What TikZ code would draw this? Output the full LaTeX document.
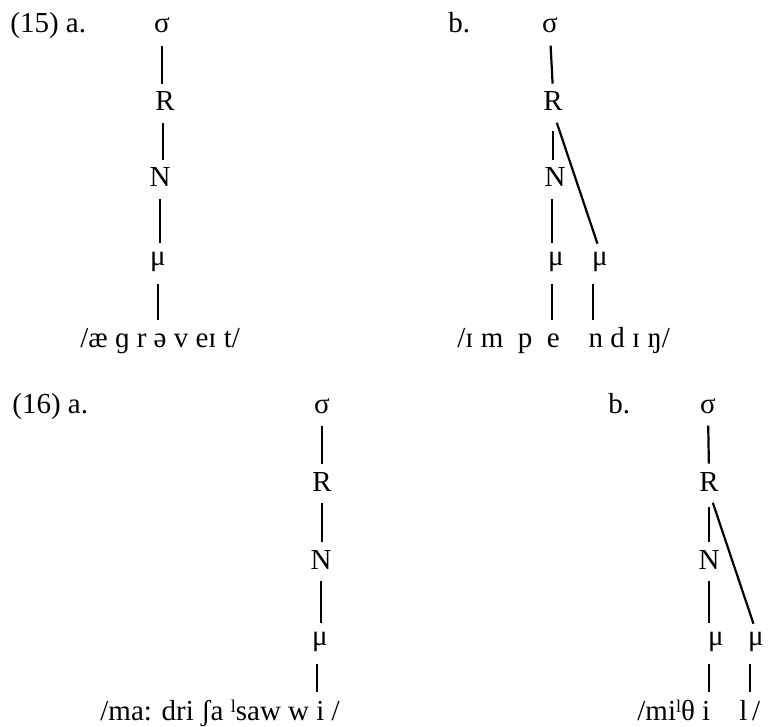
\documentclass[tikz,border=0pt]{standalone}
\usepackage{fontspec}
\setmainfont{Liberation Serif}
\usepackage{tikz}
\tikzset{
  every node/.style={font=\fontsize{14.5}{17}\selectfont},
  lbl/.style={inner sep=0pt,anchor=base},
  txt/.style={inner sep=0pt,anchor=base west},
  link/.style={line width=1.1pt,shorten <=6pt,shorten >=4pt},
  stem/.style={line width=1.1pt,shorten <=6pt}
}
\newcommand{\strs}{\raisebox{0.55ex}{\fontsize{9}{9}\selectfont l}}

\begin{document}
\begin{tikzpicture}[x=0.5pt,y=-0.5pt]
  \useasboundingbox (0,0) rectangle (770,727);
  % (15) a.
  \node[txt] (nex15) at (10,33) {(15) a.};
  \node[lbl] (nsig1) at (162,33) {σ};
  \node[lbl] (nR1) at (165,111) {R};
  \node[lbl] (nN1) at (160,187) {N};
  \node[lbl] (nmu1) at (158,265) {μ};
  \coordinate (e1) at (158,320);
  \node[txt] (nw1) at (80,347) {/æ ɡ r ə v eɪ t/};
  \draw[link] (nsig1.south) -- (nsig1.south |- nR1.north);
  \draw[link] ([xshift=-1pt]nR1.south) -- ([xshift=-1pt]nR1.south |- nN1.north);
  \draw[link] (nN1.south) -- (nN1.south |- nmu1.north);
  \draw[stem] (e1 |- nmu1.south) -- (e1);
  % (15) b.
  \node[txt] (nb15) at (448,33) {b.};
  \node[lbl] (nsig2) at (550,33) {σ};
  \node[lbl] (nR2) at (553,111) {R};
  \node[lbl] (nN2) at (555,187) {N};
  \node[lbl] (nmu2a) at (556,265) {μ};
  \node[lbl] (nmu2b) at (600,265) {μ};
  \coordinate (e2a) at (552,320);
  \coordinate (e2b) at (593,320);
  \node[txt] (nw2) at (457,347) {/ɪ m~~p~~e~~~~n d ɪ ŋ/};
  \draw[link] (nsig2.south) -- (nR2.north);
  \draw[link,shorten <=10pt] (nR2.south) -- (nR2.south |- nN2.north);
  \draw[link] (nR2.south) -- (nmu2b.north); % branch to 2nd mora
  \draw[link] (e2a |- nN2.south) -- (e2a |- nmu2a.north);
  \draw[stem] (e2a |- nmu2a.south) -- (e2a);
  \draw[stem] (e2b |- nmu2b.south) -- (e2b);
  % (16) a.
  \node[txt] (nex16) at (12,413) {(16) a.};
  \node[lbl] (nsig3) at (322,413) {σ};
  \node[lbl] (nR3) at (322,491) {R};
  \node[lbl] (nN3) at (321,569) {N};
  \node[lbl] (nmu3) at (320,645) {μ};
  \coordinate (e3) at (317,692);
  \node[txt] (nw3) at (100,720) {/ma: dri ʃa \strs saw w i /};
  \draw[link] (nsig3.south) -- (nsig3.south |- nR3.north);
  \draw[link] (nR3.south) -- (nR3.south |- nN3.north);
  \draw[link] (nN3.south) -- (nN3.south |- nmu3.north);
  \draw[stem] (e3 |- nmu3.south) -- (e3);
  % (16) b.
  \node[txt] (nb16) at (608,413) {b.};
  \node[lbl] (nsig4) at (708,413) {σ};
  \node[lbl] (nR4) at (709,491) {R};
  \node[lbl] (nN4) at (709,569) {N};
  \node[lbl] (nmu4a) at (716,645) {μ};
  \node[lbl] (nmu4b) at (756,645) {μ};
  \coordinate (e4a) at (709,692);
  \coordinate (e4b) at (750,692);
  \node[txt] (nw4) at (637,720) {/mi\strs θ i~~~~l\,/};
  \draw[link] (nsig4.south) -- (nR4.north);
  \draw[link,shorten <=8pt] (nR4.south) -- (nR4.south |- nN4.north);
  \draw[link] (nR4.south) -- (nmu4b.north); % branch to 2nd mora
  \draw[link] (e4a |- nN4.south) -- (e4a |- nmu4a.north);
  \draw[stem] (e4a |- nmu4a.south) -- (e4a);
  \draw[stem] (e4b |- nmu4b.south) -- (e4b);
\end{tikzpicture}
\end{document}
